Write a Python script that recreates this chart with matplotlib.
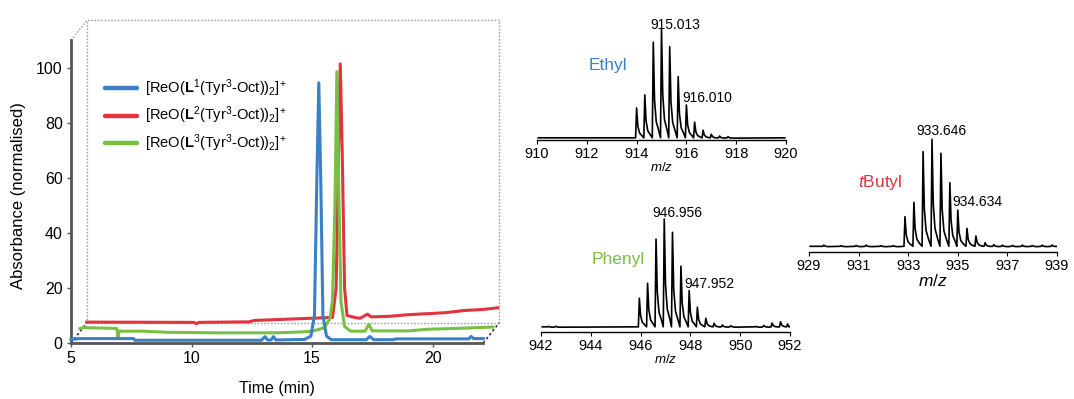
import numpy as np
import matplotlib
matplotlib.use("Agg")
import matplotlib.pyplot as plt

plt.rcParams['font.family'] = ['Liberation Sans', 'DejaVu Sans']
plt.rcParams['mathtext.fontset'] = 'custom'
plt.rcParams['mathtext.rm'] = 'Liberation Sans'
plt.rcParams['mathtext.it'] = 'Liberation Sans:italic'
plt.rcParams['mathtext.bf'] = 'Liberation Sans:bold'

BLUE = '#3a80c8'
RED = '#e0343f'
GREEN = '#78c043'

# --- HPLC traces (each in its own frame, before the pseudo-3D offset) ---
t_l1 = [5.0, 5.3, 7.6, 7.65, 12.9, 13.05, 13.15, 13.3, 13.4, 13.5, 14.7, 14.95, 15.1, 15.2,
        15.28, 15.36, 15.45, 15.6, 15.8, 17.25, 17.4, 17.55, 18.4, 18.45, 21.5, 21.6, 21.7, 22.1]
a_l1 = [1.2, 1.6, 1.6, 1.0, 1.0, 2.3, 1.1, 1.1, 2.3, 1.1, 1.3, 2.5, 10, 60,
        94.6, 60, 10, 2.5, 1.2, 1.2, 2.4, 1.2, 1.2, 1.5, 1.5, 2.4, 1.6, 1.6]

t_l3 = [5.04, 5.17, 6.57, 6.62, 6.67, 7.67, 8.67, 10.67, 13.17, 14.17, 14.67, 15.17, 15.42,
        15.52, 15.62, 15.70, 15.77, 15.87, 16.02, 16.27, 16.87, 17.02, 17.17, 18.67, 19.47, 20.67, 22.17]
a_l3 = [1.55, 1.95, 1.65, -1.45, 0.65, 0.65, 0.25, 0.05, 0.05, 0.35, 0.65, 1.85, 5.35,
        12.3, 46.3, 95.0, 56.3, 11.3, 2.35, 0.65, 0.65, 3.15, 0.75, 0.75, 1.35, 1.65, 2.15]

t_l2 = [4.99, 9.44, 9.54, 9.64, 11.74, 11.94, 13.74, 14.64, 15.19, 15.34, 15.44, 15.51,
        15.59, 15.69, 15.79, 16.14, 16.34, 16.64, 16.79, 17.54, 18.34, 19.84, 20.64, 21.44, 22.04]
a_l2 = [0.3, 0.2, -0.3, 0.2, 0.4, 0.9, 1.5, 1.8, 2.0, 12.7, 62.7, 94.2,
        62.7, 12.7, 2.7, 1.9, 1.7, 3.2, 2.2, 2.4, 3.0, 3.7, 4.5, 4.9, 5.5]

legend_labels = [r'[ReO($\mathbf{L}^{1}$(Tyr$^{3}$-Oct))$_{2}$]$^{+}$',
                 r'[ReO($\mathbf{L}^{2}$(Tyr$^{3}$-Oct))$_{2}$]$^{+}$',
                 r'[ReO($\mathbf{L}^{3}$(Tyr$^{3}$-Oct))$_{2}$]$^{+}$']

# --- mass spectra: isotope peak positions and relative heights ---
ethyl_mz = [914.0, 914.33, 914.67, 915.0, 915.33, 915.67, 916.0, 916.33, 916.67, 917.0, 917.33, 917.67]
ethyl_h = [27.8, 39.8, 88, 100, 84, 56.5, 30.5, 14.8, 7.4, 3.7, 2.0, 1.4]

phenyl_mz = [942.3, 942.6, 945.95, 946.28, 946.62, 946.95, 947.28, 947.62, 947.95, 948.28,
             948.62, 948.95, 949.28, 949.62, 950.62, 950.95, 951.28, 951.62, 951.9]
phenyl_h = [0.8, 0.8, 26.9, 40.7, 81.5, 100, 87.7, 56.5, 34, 18.5, 8.3, 3.7, 2.1, 1.4,
            0.8, 1.6, 3.8, 5.0, 3.0]

tbutyl_mz = [929.6, 930.3, 930.9, 931.3, 931.9, 932.4, 932.87, 933.23, 933.6, 933.96, 934.32,
             934.68, 935.0, 935.37, 935.73, 936.1, 936.45, 936.8, 937.2, 937.6, 938.0, 938.4, 938.8]
tbutyl_h = [1.5, 1.0, 1.2, 1.5, 1.0, 1.0, 28, 41.3, 88.5, 100, 87, 59.6, 34.2, 17.1, 10, 3.7,
            1.9, 1.4, 1.2, 1.5, 1.2, 1.4, 1.6]

fig = plt.figure(figsize=(10.74, 3.99), dpi=100)
W, H = 1074.0, 399.0


def px_axes(x0, x1, ytop, ybot):
    return fig.add_axes([x0 / W, 1 - ybot / H, (x1 - x0) / W, (ybot - ytop) / H])


# ---------------- left HPLC panel ----------------
ax = px_axes(71, 502, 16, 343)
ax.set_xlim(5, 22.88)
ax.set_ylim(0, 118.9)
DX, DY = 0.66, 7.3
XEND, YTOP = 22.1, 110

box_kw = dict(color='#a0a0a0', ls=(0, (1.2, 1.2)), lw=1.0, clip_on=False, zorder=1)
ax.plot([5 + DX, 5 + DX, XEND + DX, XEND + DX], [DY, YTOP + DY, YTOP + DY, DY], **box_kw)
ax.plot([5 + DX, XEND + DX], [DY, DY], **box_kw)
ax.plot([5, 5 + DX], [YTOP, YTOP + DY], **box_kw)
dark_kw = dict(color='#333333', ls=(0, (1.5, 1.5)), lw=1.2, clip_on=False, zorder=1)
ax.plot([5, 5 + DX], [0, DY], **dark_kw)
ax.plot([XEND, XEND + DX], [0, DY], **dark_kw)

traces = [(t_l2, a_l2, RED, 1.0), (t_l3, a_l3, GREEN, 0.5), (t_l1, a_l1, BLUE, 0.0)]
for t, a, c, z in traces:
    ax.plot(np.array(t) + DX * z, np.array(a) + DY * z, color=c, lw=2.2,
            solid_joinstyle='round', clip_on=False, zorder=3)

for i, (lab, c) in enumerate(zip(legend_labels, [BLUE, RED, GREEN])):
    ypos = 92.7 - i * 10.0
    ax.plot([6.4, 7.75], [ypos, ypos], color=c, lw=3.2, solid_capstyle='round')
    ax.text(8.07, ypos, lab, fontsize=10.5, va='center', ha='left')

for s in ['top', 'right']:
    ax.spines[s].set_visible(False)
ax.spines['left'].set_bounds(0, YTOP)
ax.spines['bottom'].set_bounds(5, XEND)
for s in ['left', 'bottom']:
    ax.spines[s].set_color('#555555')
    ax.spines[s].set_linewidth(2)
ax.set_xticks([5, 10, 15, 20])
ax.set_yticks([0, 20, 40, 60, 80, 100])
ax.tick_params(length=3, width=1, color='#555555', labelsize=11.5, pad=3)
ax.set_xlabel('Time (min)', fontsize=11.5)
ax.set_ylabel('Absorbance (normalised)', fontsize=12)
ax.xaxis.set_label_coords((277 - 71) / 431, -(381 - 343) / 327)
ax.yaxis.set_label_coords(-(71 - 26) / 431, (343 - 196) / 327)


# ---------------- mass spectra ----------------
def spectrum(axm, mz, h, xmin, xmax):
    xs, ys = [xmin + 0.05], [0.4]
    for m, v in zip(mz, h):
        xs += [m - 0.04, m, m + 0.05, m + 0.12, m + 0.22]
        ys += [0.4, v, 0.4 * v, 0.17 * v, 0.08 * v]
    xs.append(xmax - 0.05)
    ys.append(0.4)
    order = np.argsort(xs, kind='stable')
    axm.plot(np.array(xs)[order], np.array(ys)[order], color='black', lw=1.2)
    axm.set_xlim(xmin, xmax)
    for s in ['top', 'right', 'left']:
        axm.spines[s].set_visible(False)
    axm.spines['bottom'].set_linewidth(1.0)
    axm.set_yticks([])
    axm.set_xticks(np.arange(xmin, xmax + 1, 2))
    axm.tick_params(axis='x', length=3, width=0.8, labelsize=10.5, pad=2)
    axm.patch.set_alpha(0)


axe = px_axes(537, 786, 15, 140)
spectrum(axe, ethyl_mz, ethyl_h, 910, 920)
axe.set_ylim(-1.6, 113)
axe.set_xlabel('$m/z$', fontsize=9.5, labelpad=0)
axe.text(915.54, 104, '915.013', fontsize=10, ha='center', va='center')
axe.text(916.83, 37, '916.010', fontsize=10, ha='center', va='center')
axe.text(912.85, 66.7, 'Ethyl', fontsize=12.5, color=BLUE, ha='center', va='center')

axp = px_axes(541, 790, 205, 331.7)
spectrum(axp, phenyl_mz, phenyl_h, 942, 952)
axp.set_ylim(-4.1, 113)
axp.set_xlabel('$m/z$', fontsize=9.5, labelpad=0)
axp.text(947.46, 105.8, '946.956', fontsize=10, ha='center', va='center')
axp.text(948.75, 40, '947.952', fontsize=10, ha='center', va='center')
axp.text(945.1, 62.3, 'Phenyl', fontsize=12.5, color=GREEN, ha='center', va='center')

axt = px_axes(809, 1057, 120, 252)
spectrum(axt, tbutyl_mz, tbutyl_h, 929, 939)
axt.set_ylim(-4.9, 118)
axt.set_xlabel('$m/z$', fontsize=12.5, labelpad=0)
axt.text(934.36, 107.4, '933.646', fontsize=10, ha='center', va='center')
axt.text(935.81, 41.7, '934.634', fontsize=10, ha='center', va='center')
axt.text(931.86, 60, '$t$Butyl', fontsize=12.5, color=RED, ha='center', va='center')

fig.savefig('out.png', dpi=100)
